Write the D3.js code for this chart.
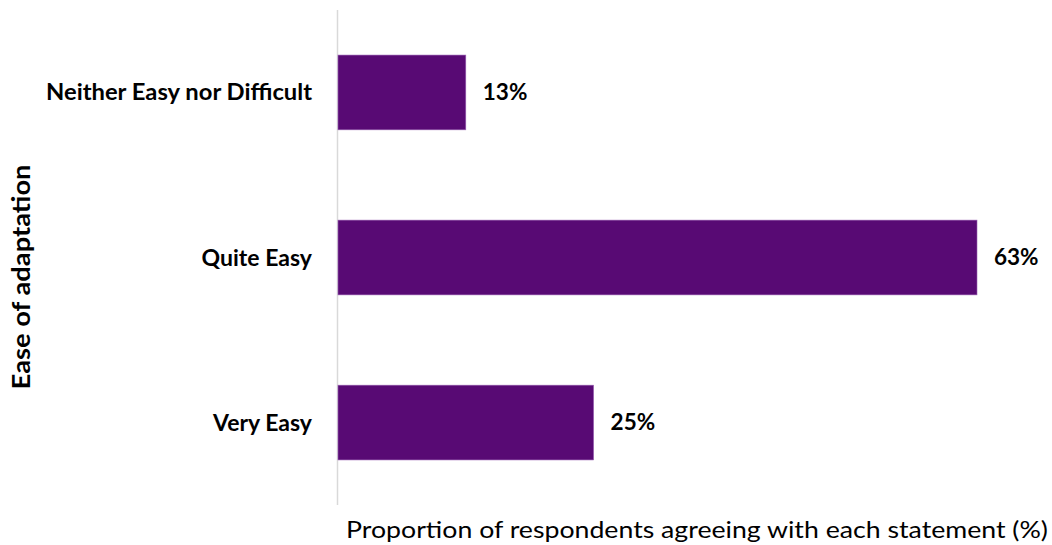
<!DOCTYPE html>
<html>
<head>
<meta charset="utf-8">
<script src="https://cdn.jsdelivr.net/npm/d3@7/dist/d3.min.js"></script>
<style>
  body { margin: 0; background: #fff; }
  svg { display: block; font-family: Lato, "Open Sans", sans-serif; }
</style>
</head>
<body>
<svg id="chart" width="1052" height="545"></svg>
<script>
// data
const categories = ["Neither Easy nor Difficult", "Quite Easy", "Very Easy"];
const values = [12.5, 62.5, 25];
const valueLabels = ["13%", "63%", "25%"];
const xTitle = "Proportion of respondents agreeing with each statement (%)";
const yTitle = "Ease of adaptation";

const svg = d3.select("#chart");
const barColor = "#580a74";

// plot area
const plotLeft = 338, plotTop = 10, plotBottom = 505;

const x = d3.scaleLinear().domain([0, 62.5]).range([plotLeft, 977]);
const y = d3.scaleBand().domain(categories).range([plotTop, plotBottom]).paddingInner(0.547).paddingOuter(0.273);

// vertical axis line
svg.append("line")
  .attr("x1", plotLeft - 0.5).attr("x2", plotLeft - 0.5)
  .attr("y1", plotTop).attr("y2", plotBottom)
  .attr("stroke", "#d9d9d9")
  .attr("stroke-width", 1.5);

const rows = categories.map((c, i) => ({ cat: c, val: values[i], lab: valueLabels[i] }));

svg.append("g")
  .selectAll("rect")
  .data(rows)
  .join("rect")
  .attr("x", x(0))
  .attr("y", d => y(d.cat))
  .attr("width", d => x(d.val) - x(0))
  .attr("height", y.bandwidth())
  .attr("fill", barColor)
  .attr("stroke", "#9a62b3")
  .attr("stroke-width", 0.6);

// data labels
svg.append("g")
  .selectAll("text")
  .data(rows)
  .join("text")
  .attr("x", d => x(d.val) + 17)
  .attr("y", d => y(d.cat) + y.bandwidth() / 2)
  .attr("dy", "0.35em")
  .attr("font-size", 22.5)
  .attr("font-weight", "bold")
  .attr("fill", "#000")
  .text(d => d.lab);

// category labels
svg.append("g")
  .selectAll("text")
  .data(rows)
  .join("text")
  .attr("x", 312)
  .attr("y", d => y(d.cat) + y.bandwidth() / 2)
  .attr("dy", "0.35em")
  .attr("text-anchor", "end")
  .attr("font-size", 23)
  .attr("font-weight", "bold")
  .attr("fill", "#000")
  .text(d => d.cat)
  .each(function(d) {
    if (d.cat === categories[0]) {
      d3.select(this).attr("textLength", 266).attr("lengthAdjust", "spacingAndGlyphs");
    }
  });

// x axis title
svg.append("text")
  .attr("x", 346)
  .attr("y", 538)
  .attr("font-size", 24)
  .attr("fill", "#000")
  .attr("textLength", 702)
  .attr("lengthAdjust", "spacingAndGlyphs")
  .text(xTitle);

// y axis title
svg.append("text")
  .attr("transform", "translate(30,277) rotate(-90)")
  .attr("text-anchor", "middle")
  .attr("font-size", 24)
  .attr("font-weight", "bold")
  .attr("fill", "#000")
  .attr("textLength", 225)
  .attr("lengthAdjust", "spacingAndGlyphs")
  .text(yTitle);
</script>
</body>
</html>
